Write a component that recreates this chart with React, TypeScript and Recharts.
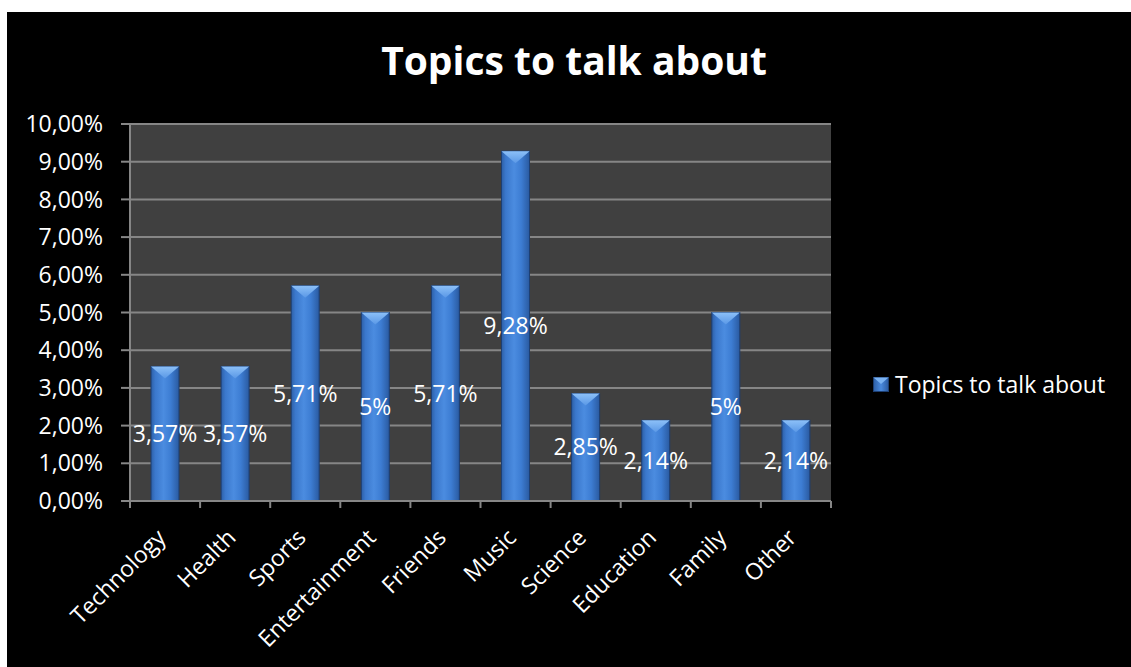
import { BarChart, Bar, XAxis, YAxis, CartesianGrid, LabelList } from 'recharts'

const categories = ['Technology', 'Health', 'Sports', 'Entertainment', 'Friends', 'Music', 'Science', 'Education', 'Family', 'Other']
const shares = [3.57, 3.57, 5.71, 5, 5.71, 9.28, 2.85, 2.14, 5, 2.14]
const yTicks = [0, 1, 2, 3, 4, 5, 6, 7, 8, 9, 10]
const seriesName = 'Topics to talk about'

const data = categories.map((name, i) => ({ name, value: shares[i] }))

const W = 1124
const H = 655
const LEFT = 123
const RIGHT = 300
const BAND = (W - LEFT - RIGHT) / categories.length
const FONT = '"Open Sans", "Noto Sans", sans-serif'
const GRID = '#868686'

const pct = (v: number) => `${v.toFixed(2).replace('.', ',')}%`
const labelPct = (v: any) => `${String(v).replace('.', ',')}%`

const BevelBar = (props: any) => {
  const { x, y, width, height } = props
  if (!height) return null
  const b = Math.min(12, height)
  return (
    <g>
      <rect x={x} y={y} width={width} height={height} fill="url(#barBody)" stroke="#1d3f73" strokeWidth={1} />
      <polygon points={`${x},${y} ${x + width},${y} ${x + width / 2},${y + b}`} fill="url(#barTop)" />
    </g>
  )
}

const XTick = (props: any) => {
  const { x, y, payload, index } = props
  const half = BAND / 2
  const tx = x + 2
  const ty = y + 38
  return (
    <g>
      <line x1={x - half} x2={x - half} y1={y} y2={y + 7} stroke={GRID} strokeWidth={2} />
      {index === categories.length - 1 && (
        <line x1={x + half} x2={x + half} y1={y} y2={y + 7} stroke={GRID} strokeWidth={2} />
      )}
      <text x={tx} y={ty} transform={`rotate(-45 ${tx} ${ty})`} textAnchor="end" fill="#fff" fontSize={23} fontFamily={FONT}>
        {payload.value}
      </text>
    </g>
  )
}

// legend is drawn outside the chart so it takes no room from the plot
const LegendBox = () => (
  <div style={{ position: 'absolute', left: 866, top: 358, display: 'flex', alignItems: 'center', gap: 6, lineHeight: '28px' }}>
    <svg width={16} height={15}>
      <defs>
        <linearGradient id="legendBody" x1="0" y1="0" x2="1" y2="0">
          <stop offset="0%" stopColor="#2d5fa6" />
          <stop offset="50%" stopColor="#4a8ade" />
          <stop offset="100%" stopColor="#2a5aa0" />
        </linearGradient>
      </defs>
      <rect x={0.5} y={0.5} width={15} height={14} fill="url(#legendBody)" stroke="#1d3f73" />
      <polygon points="0.5,0.5 15.5,0.5 8,7" fill="#7ab2f2" />
    </svg>
    <span style={{ color: '#fff', fontSize: 23, fontFamily: FONT, whiteSpace: 'nowrap' }}>{seriesName}</span>
  </div>
)

export default function App() {
  return (
    <div style={{ position: 'absolute', left: 7, top: 12, width: W, height: H, background: '#000', overflow: 'hidden' }}>
      <div
        style={{
          position: 'absolute',
          left: 567,
          top: 28,
          transform: 'translateX(-50%)',
          color: '#fff',
          fontFamily: FONT,
          fontWeight: 700,
          fontSize: 39,
          lineHeight: 1,
          whiteSpace: 'nowrap',
          zIndex: 2,
        }}
      >
        {seriesName}
      </div>
      <LegendBox />
      <BarChart width={W} height={H} data={data} margin={{ top: 112, right: RIGHT, left: 0, bottom: 0 }}>
        <defs>
          <linearGradient id="barBody" x1="0" y1="0" x2="1" y2="0">
            <stop offset="0%" stopColor="#2d5fa6" />
            <stop offset="15%" stopColor="#3b78cc" />
            <stop offset="45%" stopColor="#4b8ce0" />
            <stop offset="70%" stopColor="#3d7dd3" />
            <stop offset="100%" stopColor="#2a5aa0" />
          </linearGradient>
          <linearGradient id="barTop" x1="0" y1="0" x2="0" y2="1">
            <stop offset="0%" stopColor="#8cc0f8" />
            <stop offset="100%" stopColor="#5a98e6" />
          </linearGradient>
        </defs>
        <CartesianGrid vertical={false} stroke={GRID} strokeWidth={2} fill="#404040" fillOpacity={1} />
        <XAxis
          dataKey="name"
          height={166}
          interval={0}
          tickLine={false}
          tickSize={0}
          tickMargin={0}
          axisLine={{ stroke: GRID, strokeWidth: 2 }}
          tick={<XTick />}
        />
        <YAxis
          width={LEFT}
          domain={[0, 10]}
          ticks={yTicks}
          interval={0}
          tickFormatter={pct}
          tickSize={9}
          tickMargin={18}
          tickLine={{ stroke: GRID, strokeWidth: 2 }}
          axisLine={{ stroke: GRID, strokeWidth: 2 }}
          tick={{ fill: '#fff', fontSize: 23, fontFamily: FONT }}
        />
        <Bar dataKey="value" name={seriesName} barSize={28} shape={<BevelBar />} isAnimationActive={false}>
          <LabelList dataKey="value" position="center" formatter={labelPct} fill="#fff" fontSize={23} fontFamily={FONT} />
        </Bar>
      </BarChart>
    </div>
  )
}
